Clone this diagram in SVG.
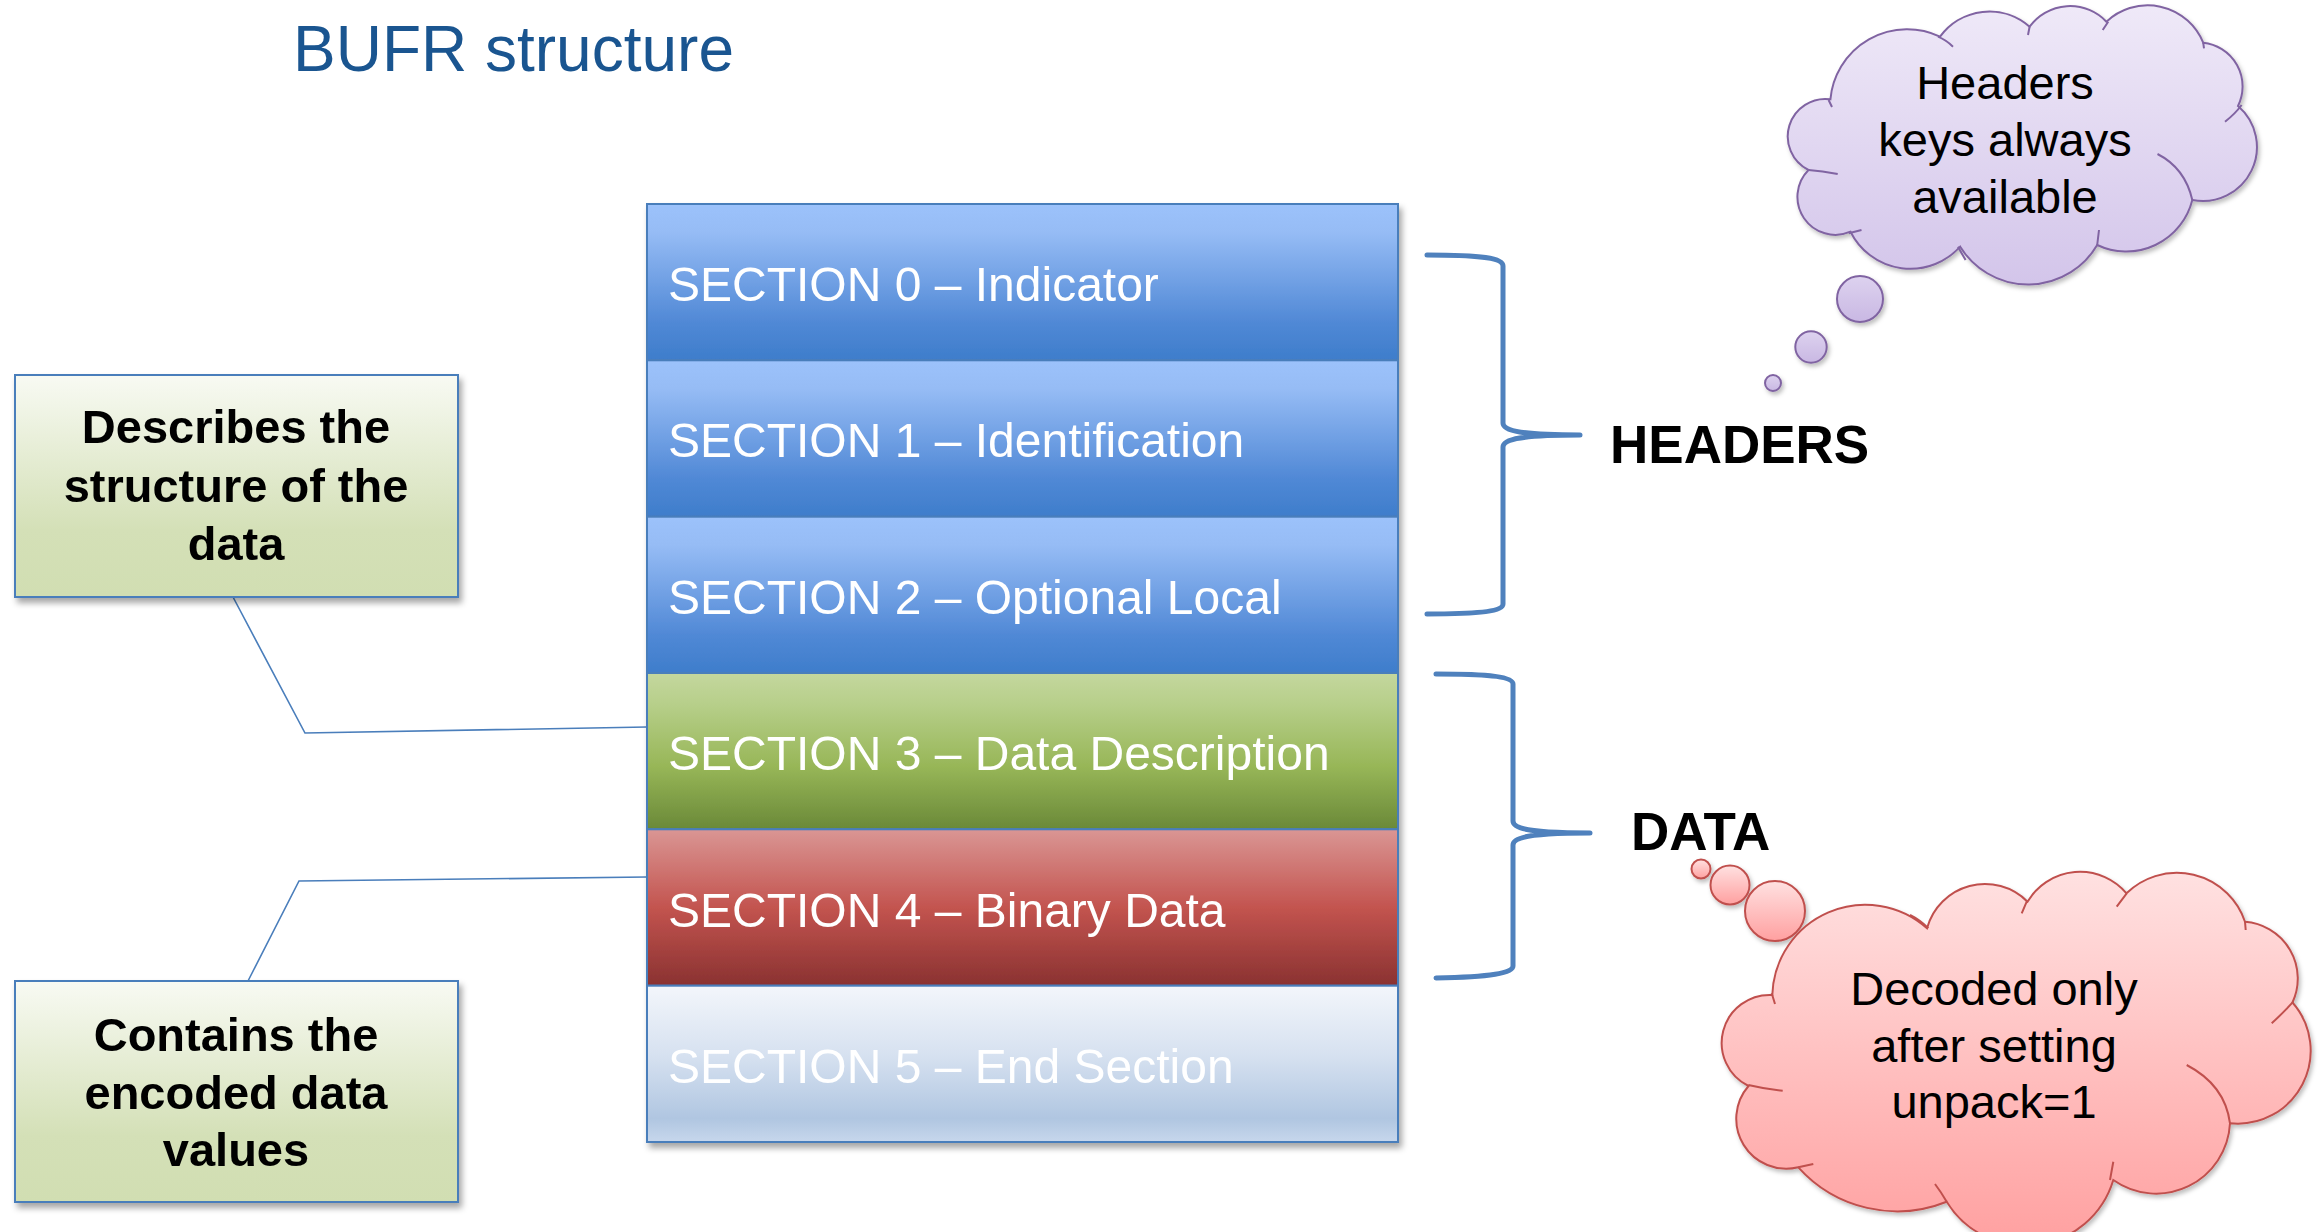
<svg xmlns="http://www.w3.org/2000/svg" width="2323" height="1232" viewBox="0 0 2323 1232">
<defs>
<style>
.sec{font-family:"Liberation Sans",Arial,sans-serif;font-size:48px;fill:#ffffff}
.box{font-family:"Liberation Sans",Arial,sans-serif;font-size:47px;font-weight:bold;fill:#000;text-anchor:middle}
.lbl{font-family:"Liberation Sans",Arial,sans-serif;font-size:53px;font-weight:bold;fill:#000}
.cld{font-family:"Liberation Sans",Arial,sans-serif;font-size:47px;fill:#000;text-anchor:middle}
.secr{stroke:#4A7EBB;stroke-width:2}
.conn{fill:none;stroke:#4A7EBB;stroke-width:1.6}
.brace{fill:none;stroke:#4F81BD;stroke-width:5;stroke-linejoin:round;stroke-linecap:round}
.pin{fill:none;stroke:#C0504D;stroke-width:2}
.vin{fill:none;stroke:#8064A2;stroke-width:2}
</style>
<linearGradient id="gBlue" x1="0" y1="0" x2="0" y2="1">
<stop offset="0" stop-color="#9CC2FB"/><stop offset="0.18" stop-color="#96BCF5"/><stop offset="0.75" stop-color="#5189D6"/><stop offset="1" stop-color="#3E7DCB"/>
</linearGradient>
<linearGradient id="gGreen" x1="0" y1="0" x2="0" y2="1">
<stop offset="0" stop-color="#C4D79E"/><stop offset="0.2" stop-color="#B7CF8A"/><stop offset="0.6" stop-color="#97B657"/><stop offset="1" stop-color="#6A8938"/>
</linearGradient>
<linearGradient id="gRed" x1="0" y1="0" x2="0" y2="1">
<stop offset="0" stop-color="#DA9694"/><stop offset="0.5" stop-color="#C3544F"/><stop offset="1" stop-color="#8A3231"/>
</linearGradient>
<linearGradient id="gLight" x1="0" y1="0" x2="0" y2="1">
<stop offset="0" stop-color="#F3F6FB"/><stop offset="0.45" stop-color="#D6E1F0"/><stop offset="0.85" stop-color="#B0C6E1"/><stop offset="1" stop-color="#C7D7EC"/>
</linearGradient>
<linearGradient id="gBox" x1="0" y1="0" x2="0" y2="1">
<stop offset="0" stop-color="#F8FAF3"/><stop offset="0.7" stop-color="#D4E0B7"/><stop offset="1" stop-color="#D1DEB2"/>
</linearGradient>
<linearGradient id="gPink" x1="0" y1="0" x2="0" y2="1">
<stop offset="0" stop-color="#FFE1E1"/><stop offset="1" stop-color="#FFA0A0"/>
</linearGradient>
<linearGradient id="gPurple" x1="0" y1="0" x2="0" y2="1">
<stop offset="0" stop-color="#EFE9F8"/><stop offset="1" stop-color="#D3C5EA"/>
</linearGradient>
<linearGradient id="gPurpleB" x1="0" y1="0" x2="0" y2="1">
<stop offset="0" stop-color="#DDD2EF"/><stop offset="1" stop-color="#C9B8E3"/>
</linearGradient>
<filter id="sh" x="-10%" y="-10%" width="120%" height="125%">
<feDropShadow dx="3" dy="5" stdDeviation="3" flood-color="#000" flood-opacity="0.35"/>
</filter>
<filter id="shs" x="-10%" y="-10%" width="120%" height="125%">
<feDropShadow dx="2" dy="3" stdDeviation="2" flood-color="#000" flood-opacity="0.25"/>
</filter>
</defs>
<rect width="2323" height="1232" fill="#ffffff"/>

<text id="title" x="293" y="71" font-family="Liberation Sans, Arial, sans-serif" font-size="64" fill="#1A5590">BUFR structure</text>

<g id="connectors">
<polyline class="conn" points="233,597 305,733 647,727"/>
<polyline class="conn" points="248,981 299,881 647,877"/>
<path class="brace" d="M1427,255 C1482,255 1503,258 1503,266 L1503,423 C1503,431 1522,435 1580,435 C1522,435 1503,439 1503,447 L1503,604 C1503,611 1482,614 1427,614"/>
<path class="brace" d="M1436,674 C1491,674 1513,677 1513,684 L1513,821 C1513,829 1532,833 1590,833 C1532,833 1513,837 1513,845 L1513,966 C1513,973 1491,977 1436,978"/>
</g>

<g id="stack" filter="url(#sh)">
<g id="section0"><rect class="secr" x="647" y="204" width="751" height="156.3" fill="url(#gBlue)"/><text class="sec" x="668" y="301">SECTION 0 – Indicator</text></g>
<g id="section1"><rect class="secr" x="647" y="360.3" width="751" height="156.4" fill="url(#gBlue)"/><text class="sec" x="668" y="457">SECTION 1 – Identification</text></g>
<g id="section2"><rect class="secr" x="647" y="516.7" width="751" height="156.3" fill="url(#gBlue)"/><text class="sec" x="668" y="614">SECTION 2 – Optional Local</text></g>
<g id="section3"><rect class="secr" x="647" y="673" width="751" height="156.3" fill="url(#gGreen)"/><text class="sec" x="668" y="770">SECTION 3 – Data Description</text></g>
<g id="section4"><rect class="secr" x="647" y="829.3" width="751" height="156.4" fill="url(#gRed)"/><text class="sec" x="668" y="927">SECTION 4 – Binary Data</text></g>
<g id="section5"><rect class="secr" x="647" y="985.7" width="751" height="156.3" fill="url(#gLight)"/><text class="sec" x="668" y="1083" fill="#F6F8FC">SECTION 5 – End Section</text></g>
</g>

<g id="box-describes" filter="url(#sh)">
<rect x="15" y="375" width="443" height="222" fill="url(#gBox)" stroke="#4A7EBB" stroke-width="2"/>
<text class="box" x="236" y="443">Describes the</text>
<text class="box" x="236" y="502">structure of the</text>
<text class="box" x="236" y="560">data</text>
</g>

<g id="box-contains" filter="url(#sh)">
<rect x="15" y="981" width="443" height="221" fill="url(#gBox)" stroke="#4A7EBB" stroke-width="2"/>
<text class="box" x="236" y="1051">Contains the</text>
<text class="box" x="236" y="1109">encoded data</text>
<text class="box" x="236" y="1166">values</text>
</g>

<g id="label-headers"><text class="lbl" x="1610" y="463">HEADERS</text></g>
<g id="label-data"><text class="lbl" x="1631" y="850">DATA</text></g>

<g id="cloud-headers">
<g filter="url(#shs)">
<circle cx="1773" cy="383" r="8" fill="url(#gPurpleB)" stroke="#8064A2" stroke-width="2"/>
<circle cx="1811" cy="347" r="15.7" fill="url(#gPurpleB)" stroke="#8064A2" stroke-width="2"/>
<circle cx="1860" cy="299" r="23" fill="url(#gPurpleB)" stroke="#8064A2" stroke-width="2"/>
<path d="M1830.4,99.3 A77 77 0 0 1 1940,36.7 A61 61 0 0 1 2029.6,26.7 A50 50 0 0 1 2106.4,21.7 A60 60 0 0 1 2203.2,42.7 A44 44 0 0 1 2238,106 A54 54 0 0 1 2192.3,200 A68 68 0 0 1 2097.2,245 A80 80 0 0 1 1960.2,246.7 A67 67 0 0 1 1850.5,231.7 A38 38 0 0 1 1808.5,170 A37.5 37.5 0 0 1 1830.4,99.3 Z" fill="url(#gPurple)" stroke="#8064A2" stroke-width="2"/>
</g>
<path class="vin" d="M1828.6,100 L1832,107 M1938,36.7 Q1946,40 1953,46.7 M2029.6,26.7 L2028,35 M2108.2,21.7 L2102.7,30 M2203.2,42.7 L2204,48.3 M2241.6,105 Q2235,114 2225,121.7 M2157.5,154 Q2185,168 2192.3,200 M2099,230 L2097.2,245 M1958,246.7 Q1962,254 1965.6,260 M1848.7,233.3 L1861.5,230 M1808.5,170 Q1822,171 1837.7,174"/>
<text class="cld" x="2005" y="99">Headers</text>
<text class="cld" x="2005" y="156">keys always</text>
<text class="cld" x="2005" y="213">available</text>
</g>

<g id="cloud-data">
<g filter="url(#shs)">
<circle cx="1701" cy="869" r="9.5" fill="url(#gPink)" stroke="#C0504D" stroke-width="2"/>
<circle cx="1730" cy="885" r="19.5" fill="url(#gPink)" stroke="#C0504D" stroke-width="2"/>
<circle cx="1775" cy="911" r="30" fill="url(#gPink)" stroke="#C0504D" stroke-width="2"/>
<path d="M1772.3,995 A93 93 0 0 1 1927,928.3 A60 60 0 0 1 2027.5,901.7 A61 61 0 0 1 2126.5,893.3 A72 72 0 0 1 2245,921.7 A57 57 0 0 1 2292.5,1002.5 A73 73 0 0 1 2230,1123.3 A74 74 0 0 1 2113.3,1180 A92 92 0 0 1 1946.7,1201.7 A133 133 0 0 1 1798.3,1167.3 A50 50 0 0 1 1748.5,1086 A48 48 0 0 1 1772.3,995 Z" fill="url(#gPink)" stroke="#C0504D" stroke-width="2"/>
</g>
<path class="pin" d="M1771.7,993.3 L1775,1004 M1910,915 Q1920,920 1928.3,928.3 M2026.7,901.7 L2021.7,913.3 M2126.7,893.3 L2116.7,906.7 M2245,921.7 L2245.7,930 M2293.3,1001.7 Q2283,1013 2271.7,1023.3 M2186.7,1065 Q2225,1085 2230,1123.3 M2113.3,1161.7 L2110,1180 M1935,1184 Q1941,1192 1946.7,1201.7 M1798.3,1167.3 L1813.3,1164 M1748.3,1085 Q1765,1089 1782.7,1090.7"/>
<text class="cld" x="1994" y="1005">Decoded only</text>
<text class="cld" x="1994" y="1062">after setting</text>
<text class="cld" x="1994" y="1118">unpack=1</text>
</g>
</svg>
